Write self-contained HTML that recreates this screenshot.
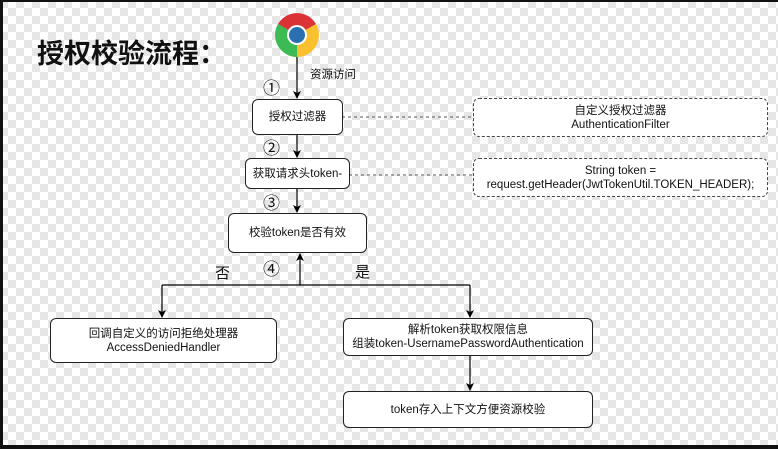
<!DOCTYPE html>
<html><head><meta charset="utf-8"><style>
html,body{margin:0;padding:0}
body{width:778px;height:449px;overflow:hidden;position:relative;font-family:"Liberation Sans","Noto Sans CJK SC",sans-serif;background:#fff}
.frame{position:absolute;left:0;top:0;border-left:3px solid #111;border-top:2px solid #111;border-bottom:4px solid #111;box-sizing:border-box;width:778px;height:449px}
.box{position:absolute;background:#fff;border:1px solid #222;border-radius:6px;box-sizing:border-box;display:flex;align-items:center;justify-content:center;text-align:center;font-size:11.5px;line-height:14px;color:#111}
.dash{border:1px dashed #444}
.t{position:absolute;font-size:11.5px;color:#111;white-space:nowrap}
.n{font-size:17px;}
</style></head><body>
<svg style="position:absolute;left:0;top:0" width="778" height="449">
<defs><pattern id="cb" width="16" height="16" patternUnits="userSpaceOnUse">
<rect width="16" height="16" fill="#fff"/><rect width="8" height="8" fill="#e6e6e6"/><rect x="8" y="8" width="8" height="8" fill="#e6e6e6"/></pattern></defs>
<rect width="778" height="449" fill="url(#cb)"/>
</svg>
<div class="frame"></div>
<div class="t" style="left:37px;top:32px;font-size:27px;font-weight:bold;">授权校验流程：</div>
<svg style="position:absolute;left:0;top:0" width="778" height="449">
<defs><marker id="a" markerWidth="8" markerHeight="8" refX="7" refY="4" orient="auto" markerUnits="userSpaceOnUse"><path d="M0,0 L8,4 L0,8 L2,4 z" fill="#000"/></marker></defs>
<g>
<path d="M297,35 L278,24 A22,22 0 0 1 316,24 Z" fill="#db3236"/>
<path d="M297,35 L316,24 A22,22 0 0 1 297,57 Z" fill="#fbc02d"/>
<path d="M297,35 L297,57 A22,22 0 0 1 278,24 Z" fill="#3cba54"/>
<circle cx="297" cy="35" r="10" fill="#fff"/>
<circle cx="297" cy="35" r="8" fill="#2a6fb0"/>
</g>
<g stroke="#000" stroke-width="1.2" fill="none">
<line x1="297" y1="57" x2="297" y2="98" marker-end="url(#a)"/>
<line x1="297" y1="134" x2="297" y2="157" marker-end="url(#a)"/>
<line x1="297" y1="188" x2="297" y2="212" marker-end="url(#a)"/>
<line x1="300" y1="285" x2="300" y2="254" marker-end="url(#a)"/>
<polyline points="162,285 470,285"/>
<line x1="162" y1="285" x2="162" y2="317" marker-end="url(#a)"/>
<line x1="470" y1="285" x2="470" y2="317" marker-end="url(#a)"/>
<line x1="470" y1="356" x2="470" y2="390" marker-end="url(#a)"/>
</g>
<g stroke="#555" stroke-dasharray="3,3" fill="none">
<line x1="342" y1="117" x2="473" y2="117"/>
<line x1="349" y1="175" x2="473" y2="175"/>
</g>
</svg>
<div class="t" style="left:310px;top:66px;">资源访问</div>
<div class="t n" style="left:263px;top:74px;">①</div>
<div class="t n" style="left:263px;top:134px;">②</div>
<div class="t n" style="left:263px;top:189px;">③</div>
<div class="t n" style="left:263px;top:255px;">④</div>
<div class="t" style="left:215px;top:262px;font-size:15px;">否</div>
<div class="t" style="left:355px;top:261px;font-size:15px;">是</div>
<div class="box" style="left:252px;top:99px;width:91px;height:36px;">授权过滤器</div>
<div class="box" style="left:245px;top:158px;width:105px;height:31px;">获取请求头token-</div>
<div class="box" style="left:228px;top:213px;width:139px;height:40px;">校验token是否有效</div>
<div class="box dash" style="left:473px;top:98px;width:295px;height:39px;">自定义授权过滤器<br>AuthenticationFilter</div>
<div class="box dash" style="left:473px;top:158px;width:295px;height:39px;">String token =<br>request.getHeader(JwtTokenUtil.TOKEN_HEADER);</div>
<div class="box" style="left:50px;top:318px;width:227px;height:45px;">回调自定义的访问拒绝处理器<br>AccessDeniedHandler</div>
<div class="box" style="left:343px;top:318px;width:250px;height:38px;">解析token获取权限信息<br>组装token-UsernamePasswordAuthentication</div>
<div class="box" style="left:343px;top:391px;width:250px;height:37px;">token存入上下文方便资源校验</div>
</body></html>
